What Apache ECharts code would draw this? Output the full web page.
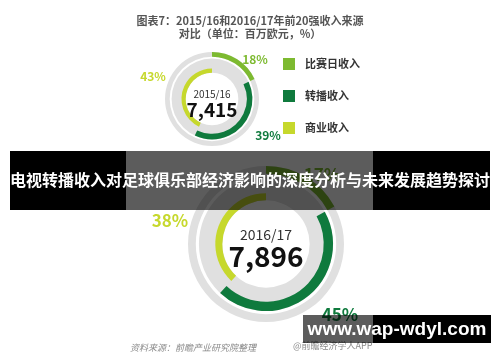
<!DOCTYPE html>
<html>
<head>
<meta charset="utf-8">
<script src="https://cdn.jsdelivr.net/npm/echarts@6/dist/echarts.min.js"></script>
<style>
  html, body { margin: 0; padding: 0; background: #fff; }
  #chart { width: 500px; height: 362px; }
</style>
</head>
<body>
<div id="chart"></div>
<script>
// Revenue sources of the top 20 clubs, two seasons
const seasons = ['2015/16', '2016/17'];
const totals = [7415, 7896];                       // 百万欧元
const sourceNames = ['比赛日收入', '转播收入', '商业收入'];
const shares1516 = [18, 39, 43];                   // %
const shares1617 = [17, 45, 38];                   // %
const sourceColors = ['#7dba30', '#0f7a3d', '#c6d82c'];

const FONT = '"Noto Sans CJK SC", "Noto Sans", sans-serif';

// ring layout of each donut, as fractions of its outer radius
const donuts = [
  { shares: shares1516, center: [212, 99], R: 47, labelFont: 12,
    labelPos: [[255, 59], [268, 135], [153, 76]] },
  { shares: shares1617, center: [266, 244], R: 78, labelFont: 17,
    labelPos: [[322, 175], [340, 315], [170, 221]] }
];
const bgRings = [[0.9, 1.0], [0.56, 0.86]];
const sliceRings = [[0.9, 1.0], [0.74, 0.86], [0.56, 0.65]];

const series = [];
donuts.forEach((d, di) => {
  bgRings.forEach(r => {
    series.push({
      type: 'pie', silent: true, center: d.center,
      radius: [r[0] * d.R, r[1] * d.R],
      label: { show: false }, labelLine: { show: false },
      itemStyle: { color: '#e0e0e0' },
      data: [{ value: 1, name: 'bg' }],
      emphasis: { disabled: true }
    });
  });
  let cum = 0;
  d.shares.forEach((v, i) => {
    const r = sliceRings[i];
    const pos = d.labelPos[i];
    series.push({
      type: 'pie', silent: true, center: d.center,
      radius: [r[0] * d.R, r[1] * d.R],
      startAngle: 90 - cum * 3.6, clockwise: true,
      labelLine: { show: false },
      emphasis: { disabled: true },
      labelLayout: { x: pos[0], y: pos[1], align: 'center', verticalAlign: 'middle' },
      data: [
        { name: sourceNames[i], value: v, itemStyle: { color: sourceColors[i] },
          label: { show: true, formatter: '{c}%', color: sourceColors[i],
                   fontSize: d.labelFont, fontWeight: 'bold', fontFamily: FONT } },
        { name: 'rest', value: 100 - v, itemStyle: { color: 'rgba(0,0,0,0)' },
          label: { show: false } }
      ]
    });
    cum += v;
  });
});

// centre captions: season and total
const centreText = [];
donuts.forEach((d, di) => {
  const big = di === 1;
  centreText.push({
    type: 'text', z: 10,
    style: { text: seasons[di], x: d.center[0], y: d.center[1] - (big ? 9 : 5),
             align: 'center', verticalAlign: 'middle',
             fontSize: big ? 14 : 10, fill: '#333', fontFamily: FONT }
  });
  centreText.push({
    type: 'text', z: 10,
    style: { text: totals[di].toLocaleString('en-US'), x: d.center[0],
             y: d.center[1] + (big ? 12 : 11),
             align: 'center', verticalAlign: 'middle',
             fontSize: big ? 28 : 19, fontWeight: 'bold', fill: '#111', fontFamily: FONT }
  });
});

const chart = echarts.init(document.getElementById('chart'), null, { renderer: 'canvas' });
chart.setOption({
  backgroundColor: '#fff',
  animation: false,
  title: {
    text: '图表7：2015/16和2016/17年前20强收入来源\n对比（单位：百万欧元，%）',
    left: 'center', top: 9,
    textStyle: { fontSize: 11, fontWeight: 'bold', color: '#555', lineHeight: 13, fontFamily: FONT }
  },
  legend: {
    orient: 'vertical', left: 283, top: 58, padding: 0,
    itemWidth: 12, itemHeight: 12, itemGap: 20,
    icon: 'rect', selectedMode: false,
    data: sourceNames,
    textStyle: { fontSize: 11, fontWeight: 'bold', color: '#333', padding: [0, 0, 0, 5], fontFamily: FONT }
  },
  series: series,
  graphic: centreText.concat([
    { type: 'text', z: 10,
      style: { text: '资料来源：前瞻产业研究院整理', x: 130, y: 348, verticalAlign: 'middle',
               fontSize: 9, fontStyle: 'italic', fill: '#8a8a8a', fontFamily: FONT } },
    { type: 'text', z: 10,
      style: { text: '@前瞻经济学人APP', x: 293, y: 346, verticalAlign: 'middle',
               fontSize: 9, fill: '#8a8a8a', fontFamily: FONT } },
    // headline banner
    { type: 'rect', z: 100, shape: { x: 10, y: 151, width: 116, height: 59 }, style: { fill: '#000' } },
    { type: 'rect', z: 100, shape: { x: 126, y: 151, width: 247, height: 59 }, style: { fill: 'rgba(0,0,0,0.64)' } },
    { type: 'rect', z: 100, shape: { x: 373, y: 151, width: 117, height: 59 }, style: { fill: '#000' } },
    { type: 'text', z: 101,
      style: { text: '电视转播收入对足球俱乐部经济影响的深度分析与未来发展趋势探讨', x: 250, y: 180,
               align: 'center', verticalAlign: 'middle', fontSize: 16, fontWeight: 'bold',
               fill: '#fff', fontFamily: FONT } },
    // site tag
    { type: 'rect', z: 100, shape: { x: 303, y: 315, width: 70, height: 28 }, style: { fill: 'rgba(0,0,0,0.64)' } },
    { type: 'rect', z: 100, shape: { x: 373, y: 315, width: 118, height: 28 }, style: { fill: '#000' } },
    { type: 'text', z: 101,
      style: { text: 'www.wap-wdyl.com', x: 397, y: 330, align: 'center', verticalAlign: 'middle',
               fontSize: 19, fontWeight: 'bold', fill: '#fff', fontFamily: '"Liberation Sans", Arial, sans-serif' } }
  ])
});
</script>
</body>
</html>
